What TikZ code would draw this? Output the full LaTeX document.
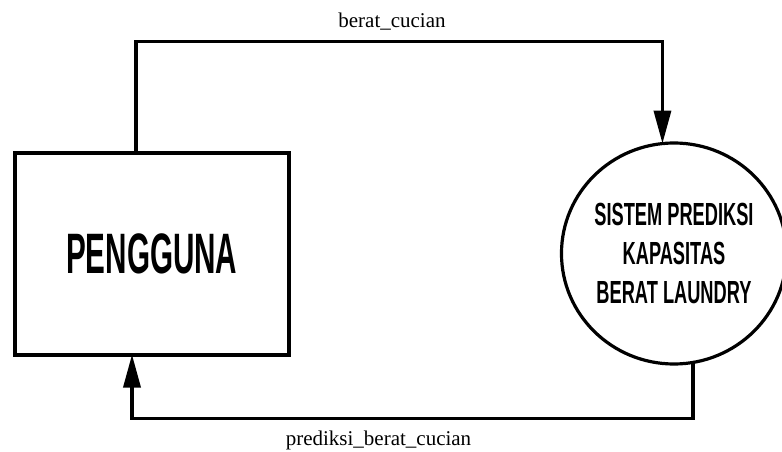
\documentclass[tikz,border=0pt]{standalone}
\usepackage{fontspec}
\setmainfont{Liberation Serif}
\newfontfamily\entityfont[FakeStretch=0.52]{Liberation Sans Bold}
\newfontfamily\processfont[FakeStretch=0.57]{Liberation Sans Bold}
\usetikzlibrary{arrows.meta,shapes.geometric}

\tikzset{
  entitybox/.style={draw=black, line width=4pt, rectangle, inner sep=0pt, outer sep=0pt,
    minimum width=274.5pt, minimum height=201.5pt,
    font=\entityfont\fontsize{57}{60}\selectfont},
  processbubble/.style={draw=black, line width=3.2pt, ellipse, inner sep=0pt, outer sep=0pt,
    minimum width=211pt, minimum height=221pt, align=center,
    font=\processfont\fontsize{32}{39}\selectfont},
  flow/.style={draw=black, line width=3.5pt,
    -{Triangle[length=33pt,width=17pt]}},
  flowlabel/.style={font=\fontsize{21}{24}\selectfont, inner sep=0pt, anchor=base}
}

\begin{document}
\begin{tikzpicture}[x=1pt,y=-1pt]
  \useasboundingbox (0,0) rectangle (782,452);

  % external entity and process
  \node[entitybox] (user) at (151.75,253.75) {PENGGUNA};
  \node[processbubble] (sys) at (674,253.5)
    {SISTEM PREDIKSI\\KAPASITAS\\BERAT LAUNDRY};

  % routing corners of the two data flows
  \coordinate (topleft) at (136,41.5);
  \coordinate (botleft) at (132,418.5);

  % data flow: user -> system
  \draw[flow] (user.north -| topleft) -- (topleft) -| (sys.96);
  % data flow: system -> user
  \draw[flow] (sys.280) |- (botleft) -- (user.south -| botleft);

  % flow labels
  \node[flowlabel] (lblin) at (392,28) {berat\_cucian};
  \node[flowlabel] (lblout) at (378.5,445) {prediksi\_berat\_cucian};
\end{tikzpicture}
\end{document}
